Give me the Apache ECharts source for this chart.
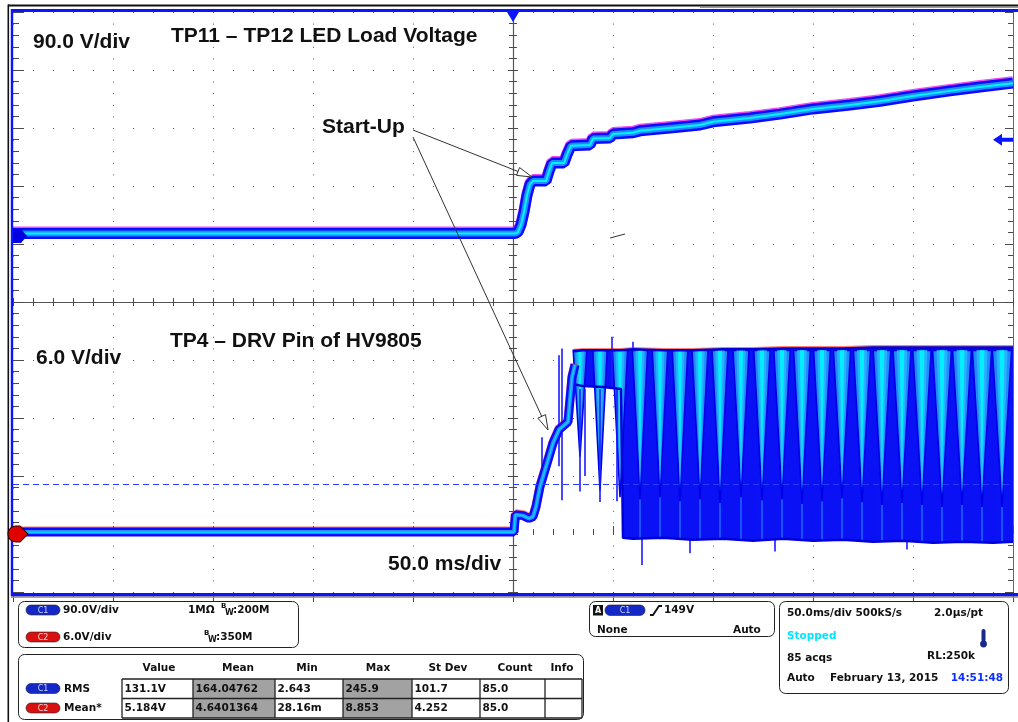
<!DOCTYPE html>
<html><head><meta charset="utf-8">
<script src="https://cdn.jsdelivr.net/npm/echarts/dist/echarts.min.js"></script>
<style>html,body{margin:0;padding:0;background:#fff;}#c{width:1018px;height:722px;}</style>
</head><body><div id="c"></div><script>
// ================= DATA =================
// time in ms (trigger at 0), 50 ms/div, 10 divisions
// C1: TP11 - TP12 LED load voltage (V), 90 V/div
const c1Time  = [-250, 1, 2.5, 4, 5.5, 7, 8.5, 10, 16.5, 18, 19.5, 25.5, 27, 29, 38.5, 40, 48.5, 50, 60, 63.5, 78.5, 93.5, 100, 118.5, 133.5, 150, 168.5, 183.5, 200, 218.5, 233.5, 250];
const c1Volts = [3.5, 3.5, 6, 17, 37, 63, 80, 85, 85, 100, 113, 113, 126, 140, 141, 151, 152, 158, 160, 163, 167.5, 172, 177, 183, 189, 197, 203, 209, 217, 225, 231, 237];
// C2: TP4 - DRV pin of HV9805 (V), 6 V/div : start-up portion
const c2Time  = [-250, 0.5, 1.2, 5, 8, 10, 11.5, 13.5, 17, 20, 23, 27.5, 29.5, 31];
const c2Volts = [0.2, 0.2, 2.0, 1.9, 1.6, 1.8, 2.8, 4.9, 7.3, 9.4, 10.8, 11.6, 16.2, 17.5];
// C2 switching envelope
const envTime = [30.5, 35, 45, 54, 55, 60, 75, 90, 105, 120, 135, 150, 165, 180, 195, 210, 225, 240, 250];
const envHigh = [18.9, 19.0, 19.0, 19.0, 19.0, 19.1, 19.0, 19.0, 19.1, 19.1, 19.2, 19.2, 19.2, 19.3, 19.3, 19.3, 19.3, 19.3, 19.3];
const envLow  = [15.5, 15.3, 15.2, 15.0, -0.4, -0.5, -0.4, -0.6, -0.5, -0.7, -0.5, -0.7, -0.6, -0.8, -0.7, -0.9, -0.8, -0.9, -0.8];
// C2 gate-drive burst notches (centre time ms, lowest level V, jitter half-width ms)
const pulseTime   = [33.5, 43.5, 53.5, 63.5, 73.5, 83.5, 93.5, 103.5, 114, 124.5, 134.5, 144.5, 154.5, 164.5, 174.5, 184.5, 194.5, 204.5, 214.5, 224.5, 234.5, 244.5];
const pulseLow    = [8.0, 4.5, 3.8, 3.6, 3.8, 3.4, 3.6, 3.2, 3.8, 3.5, 3.6, 3.1, 3.4, 3.7, 3.3, 3.0, 3.2, 3.0, 2.8, 3.0, 2.8, 2.8];
const pulseSpread = [3.4, 3.6, 3.8, 3.8, 3.9, 3.9, 4.0, 4.0, 4.0, 4.1, 4.1, 4.2, 4.2, 4.3, 4.3, 4.4, 4.5, 4.6, 4.7, 4.7, 4.8, 4.8];
const pulseTop  = 19.0;
// C2 glitches (time ms, from V, to V)
const spikeTime = [14.5, 23, 24.5, 33.5, 36, 43.5, 49.5, 52, 60, 64.5, 88.5, 131, 197];
const spikeFrom = [4.6, 7.0, 3.5, 4.4, 6.0, 3.3, 15, 3.4, 19, -3.2, -2.0, -1.8, -1.6];
const spikeTo   = [10.0, 18.5, 19.2, 15, 15, 15, 20.4, 15, 19.9, -0.5, -0.5, -0.5, -0.5];
// settings / readouts
const c1VoltsPerDiv = 90, c1OffsetDiv = 1.14;
const c2VoltsPerDiv = 6,  c2OffsetDiv = -4;
const c1TrigLevel = 149;
const c2MeanLevel = 5.184;
const measHeaders = ['Value', 'Mean', 'Min', 'Max', 'St Dev', 'Count', 'Info'];
const measC1 = ['131.1V', '164.04762', '2.643', '245.9', '101.7', '85.0', ''];
const measC2 = ['5.184V', '4.6401364', '28.16m', '8.853', '4.252', '85.0', ''];

// ================= CHART =================
const c1Min = (-5 - c1OffsetDiv) * c1VoltsPerDiv, c1Max = (5 - c1OffsetDiv) * c1VoltsPerDiv;
const c2Min = (-5 - c2OffsetDiv) * c2VoltsPerDiv, c2Max = (5 - c2OffsetDiv) * c2VoltsPerDiv;
const c1Data = c1Time.map((t, i) => [t, c1Volts[i]]);
const c2Data = c2Time.map((t, i) => [t, c2Volts[i]]);
const envData = envTime.map((t, i) => [t, envHigh[i], envLow[i]]);
const pulseData = pulseTime.map((t, i) => [t, pulseLow[i], pulseSpread[i]]);
const spikeData = spikeTime.map((t, i) => [t, spikeFrom[i], spikeTo[i]]);
function envLowAt(t) {
  for (let i = 0; i < envTime.length - 1; i++) {
    if (t >= envTime[i] && t <= envTime[i + 1]) {
      const f = (t - envTime[i]) / (envTime[i + 1] - envTime[i]);
      return envLow[i] + f * (envLow[i + 1] - envLow[i]);
    }
  }
  return envLow[envLow.length - 1];
}

const TICK = '#4a4a4a';
function divAxis(extra) {
  return Object.assign({
    type: 'value', min: 0, max: 10, interval: 1, gridIndex: 0,
    axisLabel: { show: false }, axisLine: { show: false }, splitLine: { show: false },
    axisTick: { show: false }, minorTick: { show: false }, minorSplitLine: { show: false }
  }, extra);
}
function ticks(inside, major, minor) {
  return {
    axisTick: { show: true, inside: inside, length: major, lineStyle: { color: TICK, width: 1 } },
    minorTick: { show: true, splitNumber: 5, length: minor, lineStyle: { color: TICK, width: 1 } }
  };
}

const FT = 'bold 21px "Liberation Sans", Arial, sans-serif';
const FP = 'bold 10.5px "DejaVu Sans", Verdana, sans-serif';
function txt(x, y, s, font, fill, align, z) {
  return { type: 'text', x: x, y: y, z: z || 100,
    style: { text: s, font: font, fill: fill || '#111', align: align || 'left', verticalAlign: 'middle',
      textAlign: align || 'left', textVerticalAlign: 'middle' } };
}
function rect(x, y, w, h, fill, stroke, lw, r, z) {
  return { type: 'rect', z: z || 100, shape: { x: x, y: y, width: w, height: h, r: r || 0 },
    style: { fill: fill || 'none', stroke: stroke || 'none', lineWidth: lw || 0 } };
}
function seg(x1, y1, x2, y2, color, lw, z) {
  return { type: 'line', z: z || 100, shape: { x1: x1, y1: y1, x2: x2, y2: y2 }, style: { stroke: color, lineWidth: lw } };
}
function arrow(x1, y1, x2, y2) {
  const dx = x2 - x1, dy = y2 - y1, L = Math.hypot(dx, dy), ux = dx / L, uy = dy / L, px = -uy, py = ux;
  const hl = 15, hw = 4.2, bx = x2 - ux * hl, by = y2 - uy * hl;
  return [seg(x1, y1, bx, by, '#333', 1, 110),
    { type: 'polygon', z: 110, shape: { points: [[x2, y2], [bx + px * hw, by + py * hw], [bx - px * hw, by - py * hw]] },
      style: { fill: '#fff', stroke: '#333', lineWidth: 1 } }];
}
function pill(x, y, label, fill, tcol) {
  return [rect(x, y, 34, 10, fill, '#222', 0.6, 5), txt(x + 17, y + 5.5, label, '8px "DejaVu Sans", sans-serif', tcol, 'center')];
}

const BLUE = '#0a14ff';
const graphics = [];
// screen frame
graphics.push(rect(8, 4.5, 1010, 2, '#111', null, 0, 0, 120));
graphics.push(rect(700, 7, 318, 1, '#b8963c', null, 0, 0, 120));
graphics.push(rect(7.5, 4.5, 1.6, 718, '#111', null, 0, 0, 120));
graphics.push(rect(11, 9, 1007, 3, BLUE, null, 0, 0, 120));
graphics.push(rect(10.8, 9, 2.4, 587, BLUE, null, 0, 0, 120));
graphics.push(rect(11, 593, 1007, 3.4, BLUE, null, 0, 0, 120));
graphics.push(rect(11, 596.6, 1007, 1.2, '#a08a50', null, 0, 0, 120));
// annotations
graphics.push(txt(33, 42, '90.0 V/div', FT));
graphics.push(txt(171, 36, 'TP11 \u2013 TP12 LED Load Voltage', FT));
graphics.push(txt(322, 127, 'Start-Up', FT));
graphics.push(txt(170, 341, 'TP4 \u2013 DRV Pin of HV9805', FT));
graphics.push(txt(36, 358, '6.0 V/div', FT));
graphics.push(txt(388, 564, '50.0 ms/div', FT));
graphics.push(...arrow(413, 130, 532, 177));
graphics.push(...arrow(413, 137, 548, 430));
graphics.push(seg(610, 238, 625, 234, '#333', 1, 110));

// bottom panel 1 : channels
graphics.push(rect(18.5, 601.5, 280, 46, '#fff', '#222', 1, 6));
graphics.push(...pill(26, 605, 'C1', '#1428c8', '#c8d2ff'));
graphics.push(txt(63, 610.5, '90.0V/div', FP));
graphics.push(txt(188, 610.5, '1M\u03A9', FP));
graphics.push(txt(221, 606.5, 'B', 'bold 7px "DejaVu Sans", sans-serif'));
graphics.push(txt(225, 613, 'W', 'bold 8px "DejaVu Sans", sans-serif'));
graphics.push(txt(233, 610.5, ':200M', FP));
graphics.push(...pill(26, 632, 'C2', '#d81010', '#ffd0d0'));
graphics.push(txt(63, 637.5, '6.0V/div', FP));
graphics.push(txt(204, 633.5, 'B', 'bold 7px "DejaVu Sans", sans-serif'));
graphics.push(txt(208, 640, 'W', 'bold 8px "DejaVu Sans", sans-serif'));
graphics.push(txt(216, 637.5, ':350M', FP));
// panel 2 : measurements
const colX = [122, 193, 275, 343, 412, 480, 545, 582];
const rowY = [679, 698.5, 718];
const headX = [159, 238, 307, 378, 448, 515, 562];
graphics.push(rect(18.5, 654.5, 565, 65, '#fff', '#222', 1, 6));
[1, 3].forEach(c => graphics.push(rect(colX[c], rowY[0], colX[c + 1] - colX[c], rowY[2] - rowY[0], '#a2a2a2', null, 0)));
rowY.forEach(y => graphics.push(seg(colX[0], y, colX[7], y, '#222', 1.3)));
colX.forEach(x => graphics.push(seg(x, rowY[0], x, rowY[2], '#222', 1.3)));
measHeaders.forEach((h, i) => graphics.push(txt(headX[i], 668, h, FP, '#111', 'center')));
graphics.push(...pill(26, 683.5, 'C1', '#1428c8', '#c8d2ff'));
graphics.push(txt(64, 689, 'RMS', FP));
graphics.push(...pill(26, 703, 'C2', '#d81010', '#ffd0d0'));
graphics.push(txt(64, 708.5, 'Mean*', FP));
measC1.forEach((v, i) => graphics.push(txt(colX[i] + 2.5, 689, v, FP)));
measC2.forEach((v, i) => graphics.push(txt(colX[i] + 2.5, 708.5, v, FP)));
// panel 3 : trigger
graphics.push(rect(589.5, 601.5, 185, 35, '#fff', '#222', 1, 6));
graphics.push(rect(593, 605, 10, 10.5, '#111', null, 0));
graphics.push(txt(598, 610.5, 'A', 'bold 8px "DejaVu Sans", sans-serif', '#fff', 'center'));
graphics.push(rect(605, 605, 40, 10.5, '#1428c8', '#222', 0.6, 5));
graphics.push(txt(625, 610.5, 'C1', '8px "DejaVu Sans", sans-serif', '#c8d2ff', 'center'));
graphics.push({ type: 'polyline', z: 100, shape: { points: [[650, 615], [653, 615], [659, 606], [662, 606]] }, style: { stroke: '#111', lineWidth: 1.8, fill: 'none' } });
graphics.push(txt(664, 610.5, '149V', FP));
graphics.push(txt(597, 630.5, 'None', FP));
graphics.push(txt(733, 630.5, 'Auto', FP));
// panel 4 : timebase
graphics.push(rect(779.5, 601.5, 229, 92, '#fff', '#222', 1, 6));
graphics.push(txt(787, 613.5, '50.0ms/div 500kS/s', FP));
graphics.push(txt(983, 613.5, '2.0\u00B5s/pt', FP, '#111', 'right'));
graphics.push(txt(787, 636, 'Stopped', FP, '#00e5ff'));
graphics.push(rect(981.5, 629, 4, 13, '#1a2a8a', null, 0, 2));
graphics.push({ type: 'circle', z: 100, shape: { cx: 983.5, cy: 644, r: 3.4 }, style: { fill: '#1a2a8a' } });
graphics.push(txt(787, 658, '85 acqs', FP));
graphics.push(txt(975, 656.5, 'RL:250k', FP, '#111', 'right'));
graphics.push(txt(787, 678, 'Auto', FP));
graphics.push(txt(830, 678, 'February 13, 2015', FP));
graphics.push(txt(1003, 678, '14:51:48', FP, '#1030ff', 'right'));

const option = {
  animation: false,
  backgroundColor: '#fff',
  grid: { left: 13, top: 12, width: 1000, height: 580, containLabel: false },
  xAxis: [
    { type: 'value', min: -250, max: 250, show: false },
    divAxis(Object.assign({ position: 'bottom', splitLine: { show: true, lineStyle: { color: '#555', width: 1, type: [1, 10.6] } } }, ticks(true, 8, 5))),
    divAxis(Object.assign({ position: 'top' }, ticks(true, 10, 5))),
    divAxis(Object.assign({ position: 'bottom', offset: -290, axisLine: { show: true, onZero: false, lineStyle: { color: '#555', width: 1.2 } } }, ticks(true, 4, 4))),
    divAxis(Object.assign({ position: 'bottom', offset: -290 }, ticks(false, 4, 4)))
  ],
  yAxis: [
    { type: 'value', min: c1Min, max: c1Max, show: false },
    { type: 'value', min: c2Min, max: c2Max, show: false },
    divAxis(Object.assign({ position: 'left', splitLine: { show: true, lineStyle: { color: '#555', width: 1, type: [1, 19] } } }, ticks(true, 11, 6))),
    divAxis(Object.assign({ position: 'right', axisLine: { show: true, onZero: false, lineStyle: { color: '#666', width: 1 } } }, ticks(true, 8, 5))),
    divAxis(Object.assign({ position: 'left', offset: -500, axisLine: { show: true, onZero: false, lineStyle: { color: '#555', width: 1.2 } } }, ticks(true, 5, 4))),
    divAxis(Object.assign({ position: 'left', offset: -500 }, ticks(false, 5, 4)))
  ],
  graphic: graphics,
  series: [
    { // switching envelope band
      type: 'custom', xAxisIndex: 0, yAxisIndex: 1, z: 2, silent: true, clip: true,
      data: envData, encode: { x: 0, y: [1, 2] },
      renderItem: function (params, api) {
        const i = params.dataIndex;
        if (i >= envData.length - 1) return null;
        const a1 = api.coord([envTime[i], envHigh[i]]), a2 = api.coord([envTime[i + 1], envHigh[i + 1]]);
        const b2 = api.coord([envTime[i + 1], envLow[i + 1]]), b1 = api.coord([envTime[i], envLow[i]]);
        return { type: 'polygon', shape: { points: [a1, a2, b2, b1] }, style: { fill: '#0a12f5', stroke: '#0a12f5', lineWidth: 0.6 } };
      }
    },
    { // notches of the burst
      type: 'custom', xAxisIndex: 0, yAxisIndex: 1, z: 3, silent: true, clip: true,
      data: pulseData, encode: { x: 0, y: 1 },
      renderItem: function (params, api) {
        const t = api.value(0), lo = api.value(1), w = api.value(2);
        const P = (dt, v) => api.coord([t + dt, v]);
        const children = [];
        const floor = envLowAt(t);
        if (floor < lo) {
          const b = api.coord([t, lo]), bottom = api.coord([t, floor]);
          children.push({ type: 'rect', shape: { x: b[0] - 1, y: b[1], width: 2, height: bottom[1] - b[1] }, style: { fill: '#1652ff' } });
        }
        children.push(
          { type: 'polygon', shape: { points: [P(-w, pulseTop), P(w, pulseTop), P(0, lo)] }, style: { fill: '#1e8cff', stroke: '#0000e8', lineWidth: 1.6 } },
          { type: 'polygon', shape: { points: [P(-w * 0.58, pulseTop), P(w * 0.58, pulseTop), P(0, lo + 1.2)] }, style: { fill: '#2ab0ff' } },
          { type: 'polygon', shape: { points: [P(-w * 0.26, pulseTop), P(w * 0.26, pulseTop), P(0, lo + 2.6)] }, style: { fill: '#00f0ff' } });
        return { type: 'group', children: children };
      }
    },
    { // glitches
      type: 'custom', xAxisIndex: 0, yAxisIndex: 1, z: 4, silent: true, clip: true,
      data: spikeData, encode: { x: 0, y: [1, 2] },
      renderItem: function (params, api) {
        const a = api.coord([api.value(0), api.value(1)]), b = api.coord([api.value(0), api.value(2)]);
        return { type: 'line', shape: { x1: a[0], y1: a[1], x2: b[0], y2: b[1] }, style: { stroke: '#1a1aff', lineWidth: 1.6 } };
      }
    },
    { type: 'line', xAxisIndex: 0, yAxisIndex: 1, z: 4, silent: true, showSymbol: false, data: envData.map(d => [d[0], d[1]]),
      lineStyle: { color: '#0000d8', width: 2.5, shadowColor: 'rgba(255,20,20,0.55)', shadowOffsetY: -1.2, shadowBlur: 0 } },
    { type: 'line', xAxisIndex: 0, yAxisIndex: 1, z: 4, silent: true, showSymbol: false, data: envData.map(d => [d[0], d[2]]),
      lineStyle: { color: '#0000d8', width: 2.5 } },
    // C2 start-up trace
    { type: 'line', xAxisIndex: 0, yAxisIndex: 1, z: 5, silent: true, showSymbol: false, data: c2Data,
      lineStyle: { color: '#0a0aff', width: 9, shadowColor: 'rgba(255,30,30,0.6)', shadowOffsetY: -1, shadowBlur: 0 },
      markLine: { silent: true, symbol: ['none', 'none'], label: { show: false }, animation: false, z: 7,
        lineStyle: { color: '#2a3cff', width: 1.2, type: [6, 4] }, data: [{ yAxis: c2MeanLevel }] },
      markPoint: { silent: true, label: { show: false }, animation: false, z: 130,
        data: [{ coord: [-250, 0], symbol: 'path://M8,0 C3.5,0 0,3.5 0,8 C0,12.5 3.5,16 8,16 L12,16 L20,8 L12,0 Z', symbolSize: [20, 16], symbolOffset: [5, 0],
          itemStyle: { color: '#e00000', borderColor: '#300', borderWidth: 1 } }] } },
    { type: 'line', xAxisIndex: 0, yAxisIndex: 1, z: 5, silent: true, showSymbol: false, data: c2Data, lineStyle: { color: '#2a8cff', width: 4 } },
    { type: 'line', xAxisIndex: 0, yAxisIndex: 1, z: 5, silent: true, showSymbol: false, data: c2Data, lineStyle: { color: '#00d8ff', width: 1.2 } },
    // C1 trace
    { type: 'line', xAxisIndex: 0, yAxisIndex: 0, z: 6, silent: true, showSymbol: false, data: c1Data,
      lineStyle: { color: '#0a0aff', width: 11, shadowColor: 'rgba(235,0,235,0.7)', shadowOffsetY: -1.5, shadowBlur: 0 },
      markPoint: { silent: true, label: { show: false }, animation: false, z: 130,
        data: [
          { coord: [-250, 0], symbol: 'path://M0,0 L8,0 L14,7 L8,14 L0,14 Z', symbolSize: [14, 14], symbolOffset: [7, 0], itemStyle: { color: '#0000e0' } },
          { coord: [250, c1TrigLevel], symbol: 'path://M0,6 L9,0 L9,4 L20,4 L20,8 L9,8 L9,12 Z', symbolSize: [20, 12], symbolOffset: [-10, 0], itemStyle: { color: BLUE } },
          { coord: [0, c1Max], symbol: 'path://M0,0 L12,0 L6,10 Z', symbolSize: [12, 10], symbolOffset: [0, 5], itemStyle: { color: BLUE } }
        ] } },
    { type: 'line', xAxisIndex: 0, yAxisIndex: 0, z: 6, silent: true, showSymbol: false, data: c1Data, lineStyle: { color: '#1e8cff', width: 6 } },
    { type: 'line', xAxisIndex: 0, yAxisIndex: 0, z: 6, silent: true, showSymbol: false, data: c1Data, lineStyle: { color: '#00f4ff', width: 2 } }
  ]
};
const chart = echarts.init(document.getElementById('c'), null, { renderer: 'canvas' });
chart.setOption(option);
</script></body></html>
